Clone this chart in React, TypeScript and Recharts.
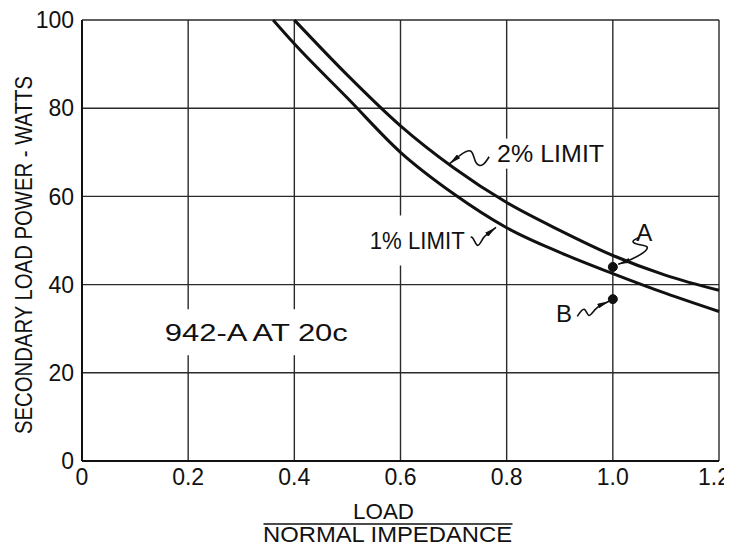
import React from "react";
import { LineChart, Line, XAxis, YAxis, CartesianGrid, ReferenceDot, Label } from "recharts";

// load / normal impedance
const loadRatio = [0.36, 0.4, 0.5, 0.6, 0.7, 0.8, 0.9, 1.0, 1.1, 1.2];
// secondary load power, watts
const limit2Pct = [null, 100, 87.5, 76, 66.5, 58.6, 52.3, 46.6, 42.1, 38.7];
const limit1Pct = [100, 94.6, 82.3, 70, 60.6, 52.9, 47.3, 42.5, 38, 33.9];

const xTicks = [0, 0.2, 0.4, 0.6, 0.8, 1.0, 1.2];
const yTicks = [0, 20, 40, 60, 80, 100];

const pointA = { x: 1.0, y: 44 };
const pointB = { x: 1.0, y: 36.7 };

// leader squiggles, arrow tip first
const lead2 = [
  { x: 0.692, y: 67.35 },
  { x: 0.714, y: 69.46 },
  { x: 0.733, y: 70.2 },
  { x: 0.742, y: 67.7 },
  { x: 0.755, y: 67.2 },
  { x: 0.767, y: 69.0 },
];
const lead1 = [
  { x: 0.78, y: 53.0 },
  { x: 0.764, y: 51.5 },
  { x: 0.755, y: 50.4 },
  { x: 0.745, y: 48.9 },
  { x: 0.735, y: 50.7 },
  { x: 0.724, y: 49.6 },
];
const leadA = [
  { x: 1.01, y: 44.6 },
  { x: 1.034, y: 45.7 },
  { x: 1.058, y: 47.3 },
  { x: 1.064, y: 48.6 },
  { x: 1.049, y: 49.1 },
  { x: 1.038, y: 49.8 },
  { x: 1.049, y: 50.7 },
];
const leadB = [
  { x: 0.993, y: 36.2 },
  { x: 0.969, y: 34.6 },
  { x: 0.955, y: 33.0 },
  { x: 0.946, y: 34.4 },
  { x: 0.933, y: 32.8 },
];

const notes = [
  { x: 0.782, y: 69.7, text: "2% LIMIT", anchor: "start", w: 107, box: 15 },
  { x: 0.542, y: 50.0, text: "1% LIMIT", anchor: "start", w: 95, box: 25 },
  { x: 0.156, y: 29.2, text: "942-A  AT 20c", anchor: "start", w: 183, box: 23 },
  { x: 1.059, y: 51.8, text: "A", anchor: "middle", w: 16, box: 0 },
  { x: 0.908, y: 33.5, text: "B", anchor: "middle", w: 16, box: 0 },
];

const curveData = loadRatio.map((x, i) => ({ x, limit2: limit2Pct[i], limit1: limit1Pct[i] }));

const FONT = "'Liberation Sans', Arial, sans-serif";
const INK = "#111";
const FS = 23;

const NoteShape = (props: any) => {
  const { cx, cy, note } = props;
  const x0 = note.anchor === "middle" ? cx - note.w / 2 : cx;
  return (
    <g>
      {note.box > 0 && (
        <rect x={x0 - 6} y={cy - note.box} width={note.w + 12} height={note.box * 2} fill="#fff" />
      )}
      <text
        x={cx}
        y={cy + FS * 0.36}
        textAnchor={note.anchor}
        textLength={note.w}
        lengthAdjust="spacingAndGlyphs"
        fontFamily={FONT}
        fontSize={FS}
        fill={INK}
      >
        {note.text}
      </text>
    </g>
  );
};

const XTick = (props: any) => {
  const { x, y, payload, index } = props;
  const v = Number(payload?.value);
  const last = index === xTicks.length - 1 || Math.abs(v - 1.2) < 1e-6 || x > 700;
  return (
    <text
      x={last ? x + 11 : x}
      y={y}
      dy="0.71em"
      textAnchor={last ? "end" : "middle"}
      fontFamily={FONT}
      fontSize={FS}
      fill={INK}
    >
      {v === 0 ? "0" : v.toFixed(1)}
    </text>
  );
};

const YTitle = (props: any) => {
  const { viewBox } = props;
  const cx = viewBox.x + 15;
  const cy = viewBox.y + 235;
  return (
    <text
      x={cx}
      y={cy}
      transform={`rotate(-90 ${cx} ${cy})`}
      textAnchor="middle"
      dominantBaseline="central"
      textLength={358}
      lengthAdjust="spacingAndGlyphs"
      fontFamily={FONT}
      fontSize={24}
      fill={INK}
    >
      SECONDARY  LOAD POWER - WATTS
    </text>
  );
};

const XTitle = (props: any) => {
  const { viewBox } = props;
  const mid = viewBox.x + viewBox.width / 2;
  const top = viewBox.y;
  return (
    <g fontFamily={FONT} fill={INK}>
      <text x={mid - 17} y={top + 58} textAnchor="middle" fontSize={22} textLength={61} lengthAdjust="spacingAndGlyphs">
        LOAD
      </text>
      <line x1={mid - 137} x2={mid + 112} y1={top + 63} y2={top + 63} stroke={INK} strokeWidth={1.6} />
      <text x={mid - 13} y={top + 81} textAnchor="middle" fontSize={22} textLength={249} lengthAdjust="spacingAndGlyphs">
        NORMAL IMPEDANCE
      </text>
    </g>
  );
};

const leaders = [lead2, lead1, leadA, leadB];

export default function App() {
  return (
    <div style={{ width: 724, height: 536, background: "#fff" }}>
      <LineChart width={724} height={536} data={curveData} margin={{ top: 12, right: 13, left: 0, bottom: 53 }}>
        <defs>
          <marker
            id="tip"
            viewBox="0 0 12 5"
            refX="12"
            refY="2.5"
            markerWidth="12"
            markerHeight="5"
            markerUnits="userSpaceOnUse"
            orient="auto-start-reverse"
          >
            <path d="M0,0 L12,2.5 L0,5 z" fill={INK} />
          </marker>
        </defs>
        <CartesianGrid stroke="#2a2a2a" strokeWidth={1.4} />
        <XAxis
          dataKey="x"
          type="number"
          domain={[0, 1.2]}
          ticks={xTicks}
          interval={0}
          height={30}
          tickLine={false}
          axisLine={{ stroke: INK, strokeWidth: 2 }}
          tick={(p: any) => <XTick {...p} />}
        >
          <Label content={<XTitle />} />
        </XAxis>
        <YAxis
          type="number"
          domain={[0, 100]}
          ticks={yTicks}
          interval={0}
          width={74}
          tickLine={false}
          axisLine={{ stroke: INK, strokeWidth: 2 }}
          tick={{ fill: INK, fontSize: FS, fontFamily: FONT }}
        >
          <Label content={<YTitle />} />
        </YAxis>
        {notes.map((n, i) => (
          <ReferenceDot
            key={`note-${i}`}
            x={n.x}
            y={n.y}
            r={0}
            ifOverflow="visible"
            shape={(p: any) => <NoteShape {...p} note={n} />}
          />
        ))}
        <Line dataKey="limit2" type="monotone" stroke={INK} strokeWidth={3} dot={false} isAnimationActive={false} />
        <Line dataKey="limit1" type="monotone" stroke={INK} strokeWidth={3} dot={false} isAnimationActive={false} />
        {leaders.map((d, i) => (
          <Line
            key={`lead-${i}`}
            data={d}
            dataKey="y"
            type="natural"
            stroke={INK}
            strokeWidth={1.6}
            dot={false}
            isAnimationActive={false}
            markerStart="url(#tip)"
          />
        ))}
        <ReferenceDot x={pointA.x} y={pointA.y} r={4.5} fill={INK} stroke={INK} />
        <ReferenceDot x={pointB.x} y={pointB.y} r={4.5} fill={INK} stroke={INK} />
      </LineChart>
    </div>
  );
}
